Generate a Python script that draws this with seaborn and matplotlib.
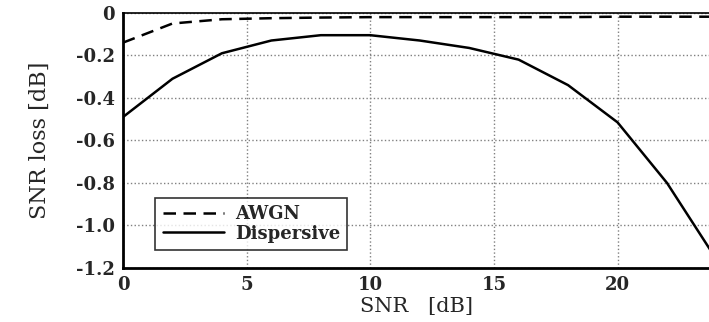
import seaborn as sns
import matplotlib.pyplot as plt
import pandas as pd

snr = [0, 2, 4, 6, 8, 10, 12, 14, 16, 18, 20, 22, 24]
awgn = [-0.14, -0.05, -0.03, -0.025, -0.022, -0.02, -0.02, -0.02, -0.02, -0.02, -0.018, -0.018, -0.018]
dispersive = [-0.49, -0.31, -0.19, -0.13, -0.105, -0.105, -0.13, -0.165, -0.22, -0.34, -0.515, -0.80, -1.16]

df = pd.concat([
    pd.DataFrame({'SNR': snr, 'loss': awgn, 'channel': 'AWGN'}),
    pd.DataFrame({'SNR': snr, 'loss': dispersive, 'channel': 'Dispersive'}),
])

sns.set_style('white')
plt.rcParams['font.family'] = ['DejaVu Serif']

fig = plt.figure(figsize=(7.09, 3.22), dpi=100)
ax = fig.add_axes([0.1735, 0.168, 0.8265, 0.792])

sns.lineplot(data=df, x='SNR', y='loss', style='channel', color='black',
             dashes={'AWGN': (5, 3), 'Dispersive': ''}, linewidth=1.8, ax=ax)

ax.set_xlim(0, 23.7)
ax.set_ylim(-1.2, 0)
ax.set_xticks([0, 5, 10, 15, 20])
ax.set_yticks([0, -0.2, -0.4, -0.6, -0.8, -1.0, -1.2])
ax.set_yticklabels(['0', '-0.2', '-0.4', '-0.6', '-0.8', '-1.0', '-1.2'])
ax.tick_params(labelsize=13, length=0, pad=6)
for t in ax.get_xticklabels() + ax.get_yticklabels():
    t.set_fontweight('bold')
ax.grid(True, linestyle=':', color='gray', linewidth=1)
for s in ['left', 'bottom']:
    ax.spines[s].set_linewidth(2)
ax.spines['top'].set_linewidth(1.2)
ax.spines['right'].set_visible(False)
for s in ax.spines.values():
    s.set_color('black')

ax.set_xlabel('SNR   [dB]', fontsize=15, labelpad=2)
ax.set_ylabel('SNR loss [dB]', fontsize=16, labelpad=18)

leg = ax.legend(loc='lower left', bbox_to_anchor=(0.04, 0.035),
                prop={'size': 13, 'weight': 'bold'},
                handlelength=3.4, handletextpad=0.6, frameon=True, fancybox=False,
                edgecolor='black', borderpad=0.4, labelspacing=0.1)
leg.get_frame().set_linewidth(1.2)

fig.savefig('out.png', dpi=100)
